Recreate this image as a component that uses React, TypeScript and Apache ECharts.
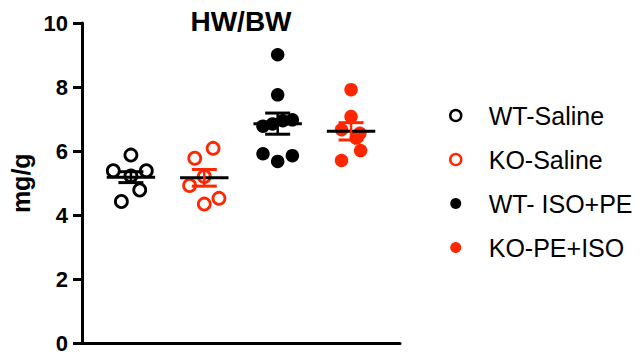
import React, { useEffect, useRef } from "react";
import * as echarts from "echarts";

const groupNames = ["WT-Saline", "KO-Saline", "WT- ISO+PE", "KO-PE+ISO"];
const groupColors = ["#000000", "#ff2600", "#000000", "#ff2600"];
const groupFilled = [false, false, true, true];

const wtSalineY = [5.88, 5.39, 5.39, 5.23, 4.79, 4.43];
const wtSalineDx = [0, -0.24, 0.21, 0, 0.12, -0.13];
const koSalineY = [6.09, 5.78, 5.21, 4.93, 4.53, 4.35];
const koSalineDx = [0.12, -0.13, 0, -0.2, 0.2, 0];
const wtIsoY = [9.01, 7.76, 6.98, 6.95, 6.85, 6.78, 5.92, 5.68, 5.86];
const wtIsoDx = [0, 0, 0.2, 0.07, -0.07, -0.2, -0.2, 0, 0.2];
const koPeY = [7.92, 7.08, 6.67, 6.56, 6.41, 6.02, 5.71];
const koPeDx = [0, 0, -0.13, 0.12, 0.07, 0.13, -0.13];

const groupMeans = [5.19, 5.17, 6.86, 6.62];
const groupSems = [0.17, 0.26, 0.33, 0.27];

const yTicks = [0, 2, 4, 6, 8, 10];

const FONT = "'Liberation Sans', Arial, Helvetica, sans-serif";

export default function App() {
  const ref = useRef<HTMLDivElement>(null);

  useEffect(() => {
    document.body.style.margin = "0";
    const chart = echarts.init(ref.current!, null, { renderer: "svg" });

    const ys = [wtSalineY, koSalineY, wtIsoY, koPeY];
    const dxs = [wtSalineDx, koSalineDx, wtIsoDx, koPeDx];

    const scatterSeries = groupNames.map((name, g) => ({
      name,
      type: "scatter",
      symbol: "circle",
      symbolSize: groupFilled[g] ? 13.5 : 12,
      z: 2,
      itemStyle: groupFilled[g]
        ? { color: groupColors[g], opacity: 1 }
        : { color: "#ffffff", borderColor: groupColors[g], borderWidth: 2.8, opacity: 1 },
      data: ys[g].map((v, i) => [g + 1 + dxs[g][i], v]),
    }));

    const errData = groupMeans.map((m, g) => [g + 1, m, groupSems[g], g]);

    const option: any = {
      animation: false,
      backgroundColor: "#ffffff",
      graphic: [
        {
          type: "text",
          x: 241,
          y: 21,
          style: {
            text: "HW/BW",
            font: `bold 28px ${FONT}`,
            fill: "#000",
            align: "center",
            verticalAlign: "middle",
          },
        },
      ],
      grid: { left: 82, top: 23, width: 318, height: 320.5 },
      legend: {
        orient: "vertical",
        left: 444,
        top: 98,
        itemWidth: 56,
        itemHeight: 11,
        itemGap: 19,
        symbolKeepAspect: true,
        textStyle: { fontSize: 25, fontFamily: FONT, color: "#000", lineHeight: 25 },
        data: groupNames.map((name, g) => ({
          name,
          icon: "circle",
          itemStyle: groupFilled[g]
            ? { color: groupColors[g], borderWidth: 0 }
            : { color: "#fff", borderColor: groupColors[g], borderWidth: 2.5 },
        })),
      },
      xAxis: {
        type: "value",
        min: 1 / 3,
        max: 4.667,
        axisLine: { show: true, lineStyle: { color: "#000", width: 3 } },
        axisTick: { show: false },
        axisLabel: { show: false },
        splitLine: { show: false },
      },
      yAxis: {
        type: "value",
        min: 0,
        max: 10,
        interval: 2,
        name: "mg/g",
        nameLocation: "middle",
        nameRotate: 90,
        nameGap: 49,
        nameTextStyle: { fontSize: 25, fontWeight: "bold", fontFamily: FONT, color: "#000" },
        axisLine: { show: true, onZero: false, lineStyle: { color: "#000", width: 3 } },
        axisTick: { show: true, length: 9, lineStyle: { color: "#000", width: 3 } },
        axisLabel: {
          fontSize: 22,
          fontWeight: "bold",
          fontFamily: FONT,
          color: "#000",
          margin: 14,
          formatter: (v: number) => (yTicks.includes(v) ? String(v) : ""),
        },
        splitLine: { show: false },
      },
      series: [
        ...scatterSeries,
        {
          name: "mean ± SEM",
          type: "custom",
          z: 5,
          encode: { x: 0, y: 1 },
          data: errData,
          renderItem: (params: any, api: any) => {
            const x = api.value(0);
            const m = api.value(1);
            const s = api.value(2);
            const g = api.value(3);
            const c = api.coord([x, m]);
            const top = api.coord([x, m + s]);
            const bot = api.coord([x, m - s]);
            const halfMean = api.size([0.33, 0])[0];
            const halfCap = api.size([0.17, 0])[0];
            const col = groupColors[g];
            return {
              type: "group",
              children: [
                {
                  type: "line",
                  shape: { x1: c[0] - halfMean, y1: c[1], x2: c[0] + halfMean, y2: c[1] },
                  style: { stroke: "#000", lineWidth: 3 },
                },
                {
                  type: "line",
                  shape: { x1: c[0], y1: top[1], x2: c[0], y2: bot[1] },
                  style: { stroke: col, lineWidth: 2.5 },
                },
                {
                  type: "line",
                  shape: { x1: c[0] - halfCap, y1: top[1], x2: c[0] + halfCap, y2: top[1] },
                  style: { stroke: col, lineWidth: 3 },
                },
                {
                  type: "line",
                  shape: { x1: c[0] - halfCap, y1: bot[1], x2: c[0] + halfCap, y2: bot[1] },
                  style: { stroke: col, lineWidth: 3 },
                },
              ],
            };
          },
        },
      ],
    };

    chart.setOption(option);
    return () => chart.dispose();
  }, []);

  return <div ref={ref} style={{ width: 641, height: 358 }} />;
}
